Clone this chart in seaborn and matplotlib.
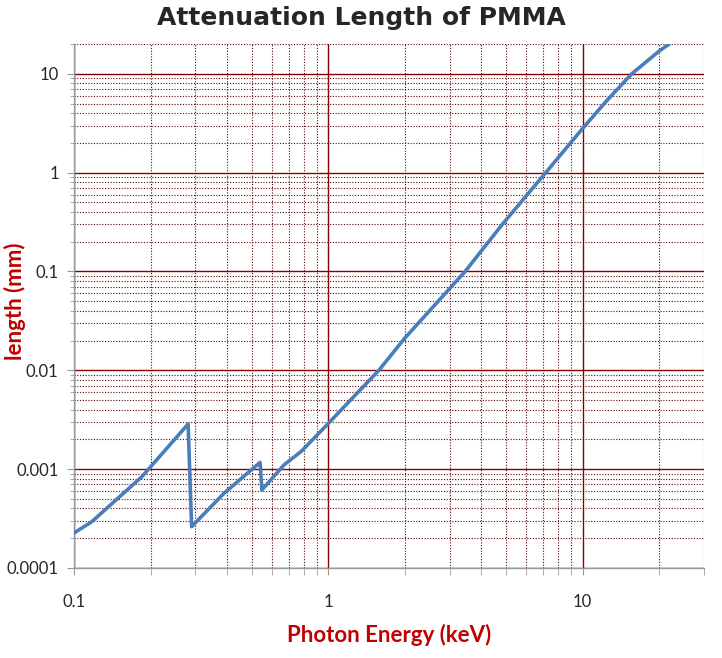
"""Attenuation length of PMMA, log-log chart."""

import matplotlib

matplotlib.use("Agg")
import matplotlib.pyplot as plt  # noqa: E402
import seaborn as sns  # noqa: E402
from matplotlib.ticker import LogLocator, NullFormatter  # noqa: E402

# photon energy (keV) and attenuation length (mm)
energy = [0.1, 0.1175, 0.185, 0.281, 0.290, 0.389, 0.539, 0.548, 0.671,
          0.782, 1.0, 1.58, 2.0, 3.45, 4.83, 7.16, 10.0, 12.4, 15.6, 20.0, 21.9]
length = [2.26e-4, 2.94e-4, 8.4e-4, 2.86e-3, 2.62e-4, 5.7e-4, 1.17e-3,
          6.17e-4, 1.11e-3, 1.51e-3, 2.9e-3, 0.01, 0.0212, 0.1, 0.299, 1.0,
          2.8, 5.3, 10.0, 17.0, 20.0]

x_ticks = [0.1, 1, 10]
x_labels = ["0.1", "1", "10"]
y_ticks = [0.0001, 0.001, 0.01, 0.1, 1, 10]
y_labels = ["0.0001", "0.001", "0.01", "0.1", "1", "10"]

sns.set_style("white")
plt.rcParams["font.family"] = ["Lato", "DejaVu Sans"]

fig = plt.figure(figsize=(7.22, 6.58), dpi=100)
ax = fig.add_axes([0.1025, 0.1368, 0.8725, 0.7962])

sns.lineplot(x=energy, y=length, color="#4a7ebb", linewidth=2.6,
             estimator=None, sort=False, ax=ax, zorder=3)

ax.set_xscale("log")
ax.set_yscale("log")
ax.set_xlim(0.1, 30)
ax.set_ylim(0.0001, 20)

ax.set_xticks(x_ticks, x_labels)
ax.set_yticks(y_ticks, y_labels)
ax.xaxis.set_minor_locator(LogLocator(base=10, subs=range(2, 10)))
ax.yaxis.set_minor_locator(LogLocator(base=10, subs=range(2, 10)))
ax.xaxis.set_minor_formatter(NullFormatter())
ax.yaxis.set_minor_formatter(NullFormatter())

ax.set_axisbelow(True)
ax.grid(which="major", color="#8b0000", linestyle="-", linewidth=1.0)
ax.grid(which="minor", color="#5a0808", linestyle=(0, (1, 1.5)), linewidth=0.8)

for side in ("top", "right"):
    ax.spines[side].set_visible(False)
for side in ("left", "bottom"):
    ax.spines[side].set_color("#9a9a9a")
    ax.spines[side].set_linewidth(1.0)

ax.tick_params(axis="x", which="both", direction="out", length=5,
               color="#9a9a9a", bottom=True, labelsize=12, pad=14)
ax.tick_params(axis="y", which="major", direction="out", length=5,
               color="#9a9a9a", left=True, labelsize=12, pad=6)
ax.tick_params(axis="y", which="minor", direction="out", length=3,
               color="#9a9a9a", left=True)

ax.set_xlabel("Photon Energy (keV)", fontsize=16, fontweight="bold",
              color="#c00000")
ax.set_ylabel("length (mm)", fontsize=16, fontweight="bold",
              color="#c00000")
ax.xaxis.set_label_coords(0.5, -0.128)
ax.yaxis.set_label_coords(-0.094, 0.51)
ax.xaxis.label.set_va("center")
ax.yaxis.label.set_va("center")

fig.text(0.5, 0.972, "Attenuation Length of PMMA", ha="center", va="center",
         fontsize=18, fontweight="bold", family=["DejaVu Sans"])

fig.savefig("out.png", dpi=100)
plt.close(fig)
